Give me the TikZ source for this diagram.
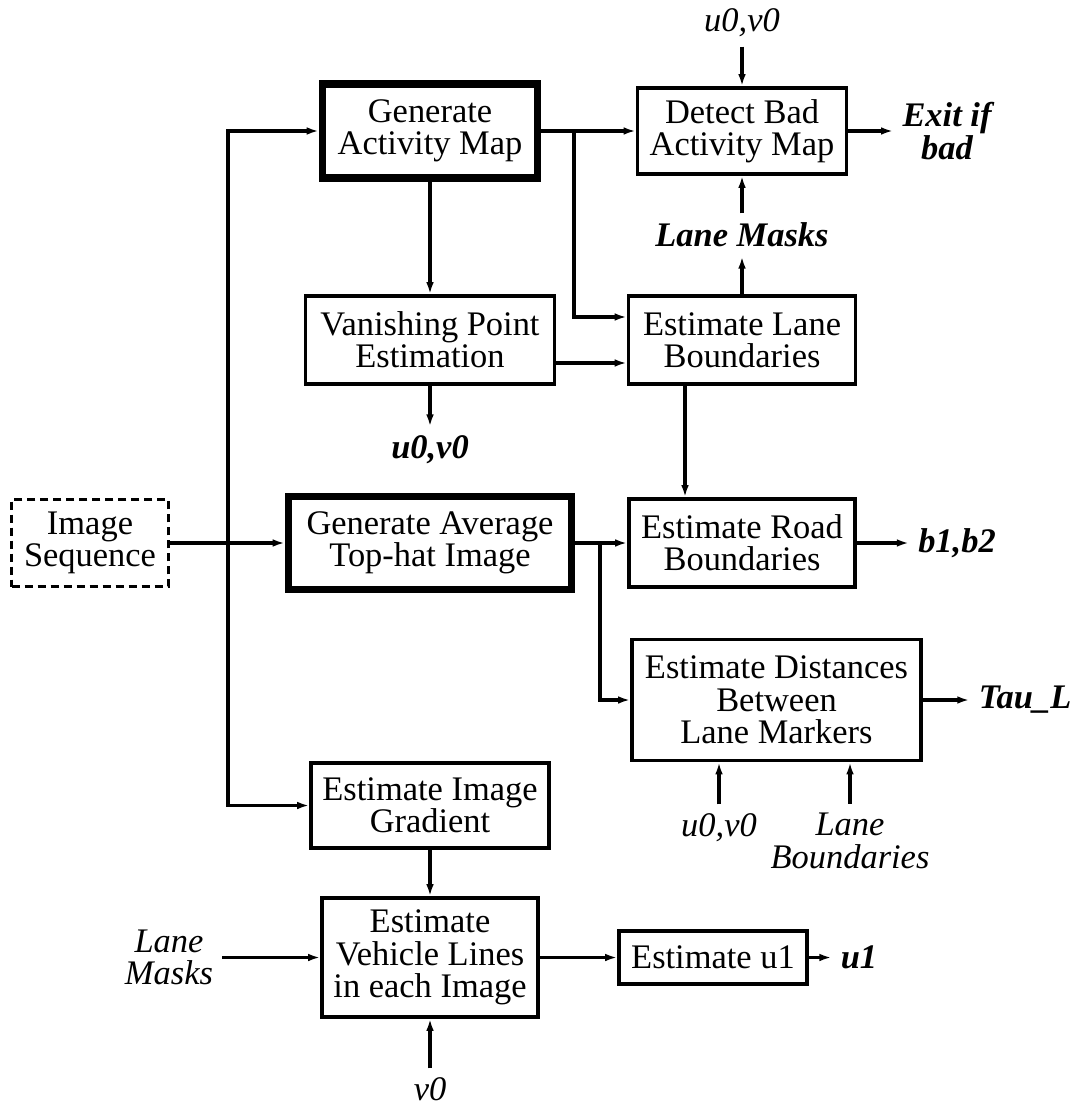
\documentclass[tikz,border=0pt]{standalone}
\usepackage{fontspec}
\setmainfont{Liberation Serif}
\usepackage{tikz}
\usetikzlibrary{arrows, arrows.meta, shapes, positioning}

\tikzset{
	box/.style={draw, rectangle, line width=1.1pt, align=center, text centered, inner sep=0pt, font=\fontsize{9.8}{9.2}\selectfont},
	thickbox/.style={box, line width=2.2pt},
	inbox/.style={box, dash pattern=on 2.4pt off 1.3pt},
	sig/.style={align=center, inner sep=2.5pt, font=\fontsize{9.8}{9.2}\selectfont\itshape},
	outsig/.style={sig, font=\fontsize{9.8}{9.2}\selectfont\bfseries\itshape},
	flow/.style={->, line width=1pt}
}

\begin{document}
\begin{tikzpicture}[>={Latex[length=3.4pt,width=2.2pt]}]
	\useasboundingbox (0,0) rectangle (10.76,-11.03);
	% nodes %
	\node[thickbox, minimum width=2.15cm, minimum height=0.94cm] (actmap) at (4.30,-1.31) {Generate\\Activity Map};
	\node[box, right of = actmap, node distance=3.12cm, minimum width=2.09cm, minimum height=0.86cm] (detect) {Detect Bad\\Activity Map};
	\node[sig, above of = detect, node distance=1.08cm] (u0top) {u0,v0};
	\node[outsig, right of = detect, node distance=2.05cm] (exit) {Exit if\\bad};
	\node[box, below of = actmap, node distance=2.09cm, minimum width=2.49cm, minimum height=0.88cm] (vanish) {Vanishing Point\\Estimation};
	\node[outsig, below of = vanish, node distance=1.10cm] (vpout) {u0,v0};
	\node[box, right of = vanish, node distance=3.12cm, minimum width=2.27cm, minimum height=0.88cm] (lanebd) {Estimate Lane\\Boundaries};
	\node[outsig, above of = lanebd, node distance=1.05cm] (lanemask) {Lane Masks};
	\node[thickbox, below of = vanish, node distance=2.03cm, minimum width=2.83cm, minimum height=0.93cm] (avg) {Generate Average\\Top-hat Image};
	\node[box, inbox, left of = avg, node distance=3.40cm, minimum width=1.57cm, minimum height=0.87cm] (seq) {Image\\Sequence};
	\node[box, right of = avg, node distance=3.12cm, minimum width=2.26cm, minimum height=0.88cm] (road) {Estimate Road\\Boundaries};
	\node[outsig, right of = road, node distance=2.15cm] (b1b2) {b1,b2};
	\node[box, minimum width=2.89cm, minimum height=1.21cm] (dist) at (7.765,-7.00) {Estimate Distances\\Between\\Lane Markers};
	\node[outsig, right of = dist, node distance=2.485cm] (tau) {Tau\_L};
	\node[sig] (du0) at (7.19,-8.28) {u0,v0};
	\node[sig] (dlb) at (8.50,-8.41) {Lane\\Boundaries};
	\node[box, below of = avg, node distance=2.625cm, minimum width=2.38cm, minimum height=0.85cm] (grad) {Estimate Image\\Gradient};
	\node[box, below of = grad, node distance=1.52cm, minimum width=2.16cm, minimum height=1.19cm] (vehicle) {Estimate\\Vehicle Lines\\in each Image};
	\node[sig, left of = vehicle, node distance=2.61cm] (lm) {Lane\\Masks};
	\node[sig, below of = vehicle, node distance=1.32cm] (v0) {v0};
	\node[box, right of = vehicle, node distance=2.83cm, minimum width=1.88cm, minimum height=0.53cm] (u1box) {Estimate u1};
	\node[outsig, right of = u1box, node distance=1.46cm] (u1) {u1};

	% edges %
	\draw[flow] (actmap) -- (detect);
	\draw[flow] (u0top) -- (detect);
	\draw[flow] (detect) -- (exit);
	\draw[flow] (lanemask) -- (detect);
	\draw[flow] (lanebd) -- (lanemask);
	\draw[flow] (actmap) -- (vanish);
	\draw[flow] (vanish) -- (vpout);
	\coordinate (ja) at (5.74,-1.31);
	\draw[flow] (ja) |- ([yshift=0.23cm]lanebd.west);
	\draw[flow] ([yshift=-0.23cm]vanish.east) -- ([yshift=-0.23cm]lanebd.west);
	\draw[flow] ([xshift=-0.57cm]lanebd.south) -- ([xshift=-0.57cm]road.north);
	\draw[flow] (seq) -- (avg);
	\coordinate (jin) at (2.28,-5.43);
	\draw[flow] (jin) |- (actmap);
	\draw[flow] (jin) |- (grad);
	\draw[flow] (avg) -- (road);
	\coordinate (jb) at (6.00,-5.43);
	\draw[flow] (jb) |- (dist);
	\draw[flow] (road) -- (b1b2);
	\draw[flow] (dist) -- (tau);
	\draw[flow] (du0) -- (du0 |- dist.south);
	\draw[flow] (dlb) -- (dlb |- dist.south);
	\draw[flow] (grad) -- (vehicle);
	\draw[flow] (lm) -- (vehicle);
	\draw[flow] (v0) -- (vehicle);
	\draw[flow] (vehicle) -- (u1box);
	\draw[flow] (u1box) -- (u1);
\end{tikzpicture}
\end{document}
